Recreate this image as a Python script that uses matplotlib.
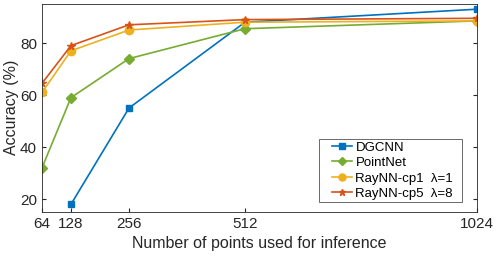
import matplotlib
matplotlib.use('Agg')
import matplotlib.pyplot as plt
from matplotlib.legend_handler import HandlerLine2D

plt.rcParams['font.family'] = ['Liberation Sans', 'DejaVu Sans']

points = [64, 128, 256, 512, 1024]
dgcnn_x = [128, 256, 512, 1024]
dgcnn = [18, 55, 88, 93]
pointnet = [32, 59, 74, 85.5, 88.5]
raynn_cp1 = [61, 77, 85, 88, 88.5]
raynn_cp5 = [64.5, 79, 87, 89, 89.5]

fig = plt.figure(figsize=(4.98, 2.58), dpi=100)
ax = fig.add_axes([0.0843, 0.178, 0.8737, 0.8065])

ax.plot(dgcnn_x, dgcnn, color='#0072BD', marker='s', markersize=5, lw=1.2, label='DGCNN')
ax.plot(points, pointnet, color='#77AC30', marker='D', markersize=5, lw=1.2, label='PointNet')
ax.plot(points, raynn_cp1, color='#EDB120', marker='o', markersize=6, lw=1.2, label='RayNN-cp1  λ=1')
ax.plot(points, raynn_cp5, color='#D95319', marker='*', markersize=5.5, lw=1.2, label='RayNN-cp5  λ=8')

ax.set_xlim(64, 1024)
ax.set_ylim(15, 95)
ax.set_xticks(points)
ax.set_yticks([20, 40, 60, 80])
ax.tick_params(direction='in', top=False, right=True, labelsize=11, length=3, color='#262626', labelcolor='#262626')
for s in ax.spines.values():
    s.set_color('#262626')
    s.set_linewidth(0.6)

ax.set_xlabel('Number of points used for inference', fontsize=11.5, color='#262626', labelpad=4)
ax.set_ylabel('Accuracy (%)', fontsize=11.5, color='#262626')
ax.yaxis.set_label_coords(-0.052, 0.505)

# legend box placed where the reference has it, handles pushed in from the left edge
leg = ax.legend(loc='lower left', fontsize=9.5, frameon=True, fancybox=False, mode='expand',
                bbox_to_anchor=(0.637, 0.048, 0.329, 0.3125), borderaxespad=0,
                handlelength=2.35, handletextpad=0.25, borderpad=0.15, labelspacing=0.25,
                markerscale=0.85, handler_map={plt.Line2D: HandlerLine2D(xpad=0.83)})
leg.get_frame().set_edgecolor('#262626')
leg.get_frame().set_linewidth(0.6)

fig.savefig('out.png', dpi=100)
